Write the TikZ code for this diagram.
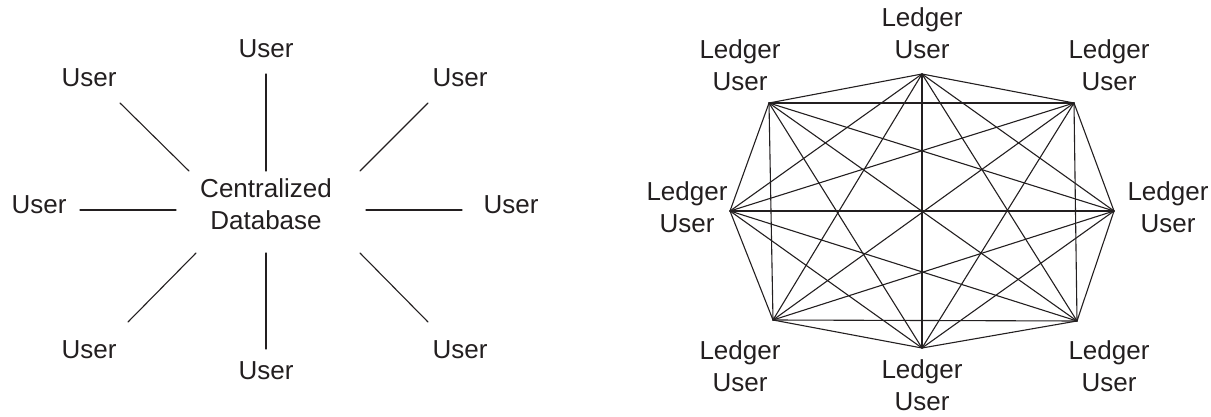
\documentclass[tikz,border=0pt]{standalone}
\usepackage{fontspec}
\setmainfont{Liberation Sans}
\definecolor{ink}{HTML}{231F20}

\begin{document}
\begin{tikzpicture}[x=0.5pt,y=-0.5pt,
  every node/.style={font=\fontsize{13}{16}\selectfont, text=ink, align=center, inner sep=0pt},
  link/.style={draw=ink, line width=0.55pt, line cap=round}]
\useasboundingbox (0,0) rectangle (1211,417);

% CENTRALIZED
\node (db) at (266,204) {Centralized\\Database};

\node (u1) at (266,49)  {User};
\node (u2) at (460,78)  {User};
\node (u3) at (511,205) {User};
\node (u4) at (460,350) {User};
\node (u5) at (266,371) {User};
\node (u6) at (89,350)  {User};
\node (u7) at (39,205)  {User};
\node (u8) at (89,78)   {User};

% spoke ends: (sNo) outer end, (sNi) inner end
\coordinate (s1o) at (266,74);  \coordinate (s1i) at (266,171);
\coordinate (s2o) at (428,103); \coordinate (s2i) at (360,171);
\coordinate (s3o) at (462,210); \coordinate (s3i) at (366,210);
\coordinate (s4o) at (428,322); \coordinate (s4i) at (360,253);
\coordinate (s5o) at (266,349); \coordinate (s5i) at (266,253);
\coordinate (s6o) at (128,322); \coordinate (s6i) at (196,253);
\coordinate (s7o) at (80,210);  \coordinate (s7i) at (176,210);
\coordinate (s8o) at (120,103); \coordinate (s8i) at (189,171);

\foreach \n in {1,...,8}
  \draw[link] (s\n o) -- (s\n i);

% DISTRIBUTED
\coordinate (v1) at (922,74);
\coordinate (v2) at (1074,103);
\coordinate (v3) at (1114,211);
\coordinate (v4) at (1077,321);
\coordinate (v5) at (922,348);
\coordinate (v6) at (773,320);
\coordinate (v7) at (730,211);
\coordinate (v8) at (769,103);

\node (p1) at (922,33)   {Ledger\\User};
\node (p2) at (1109,65)  {Ledger\\User};
\node (p3) at (1168,207) {Ledger\\User};
\node (p4) at (1109,366) {Ledger\\User};
\node (p5) at (922,385)  {Ledger\\User};
\node (p6) at (740,366)  {Ledger\\User};
\node (p7) at (687,207)  {Ledger\\User};
\node (p8) at (740,65)   {Ledger\\User};

% every ledger linked to every other one
\foreach \i in {1,...,7} {
  \pgfmathtruncatemacro\k{\i+1}
  \foreach \j in {\k,...,8}
    \draw[link] (v\i) -- (v\j);
}

\end{tikzpicture}
\end{document}
